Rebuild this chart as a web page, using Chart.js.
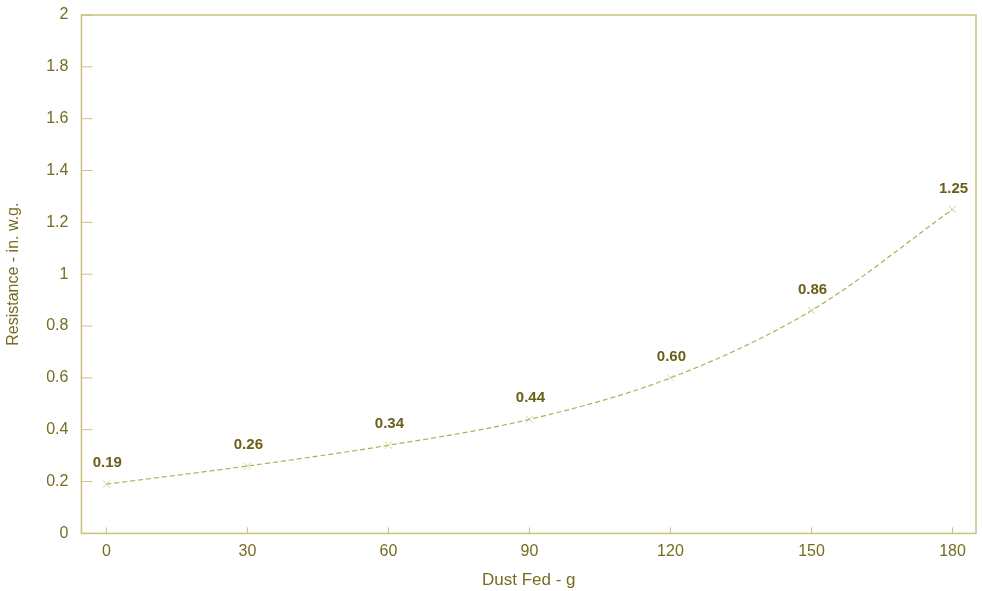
<!DOCTYPE html>
<html>
<head>
<meta charset="utf-8">
<script src="https://cdn.jsdelivr.net/npm/chart.js@4.4.1/dist/chart.umd.min.js"></script>
<style>
    html, body { margin: 0; padding: 0; background: #ffffff; }
    .wrap { width: 982px; height: 591px; }
</style>
</head>
<body>
<div class="wrap"><canvas id="dustChart" width="982" height="591"></canvas></div>
<script>
// data
const dustFed = [0, 30, 60, 90, 120, 150, 180];
const resistance = [0.19, 0.26, 0.34, 0.44, 0.60, 0.86, 1.25];
const pointLabels = ['0.19', '0.26', '0.34', '0.44', '0.60', '0.86', '1.25'];
const xTicks = [0, 30, 60, 90, 120, 150, 180];

const textColor = '#766c22';
const axisColor = '#c9c27e';
const fontFamily = '"Liberation Sans", Arial, sans-serif';

// box round the plot area plus short inward tick marks
const frame = {
    id: 'frame',
    afterDraw(chart) {
        const ctx = chart.ctx;
        const a = chart.chartArea;
        const xs = chart.scales.x;
        const ys = chart.scales.y;
        ctx.save();
        ctx.strokeStyle = axisColor;
        ctx.lineWidth = 1.5;
        ctx.strokeRect(a.left, a.top, a.right - a.left, a.bottom - a.top);
        ctx.lineWidth = 1;
        ys.ticks.forEach(t => {
            const y = ys.getPixelForValue(t.value);
            ctx.beginPath();
            ctx.moveTo(a.left, y);
            ctx.lineTo(a.left + 11, y);
            ctx.stroke();
        });
        xs.ticks.forEach(t => {
            const x = xs.getPixelForValue(t.value);
            ctx.beginPath();
            ctx.moveTo(x, a.bottom);
            ctx.lineTo(x, a.bottom - 6);
            ctx.stroke();
        });
        ctx.restore();
    }
};

// value labels above each point
const valueLabels = {
    id: 'valueLabels',
    afterDatasetsDraw(chart) {
        const ctx = chart.ctx;
        const meta = chart.getDatasetMeta(0);
        ctx.save();
        ctx.fillStyle = '#6a6018';
        ctx.font = 'bold 15px ' + fontFamily;
        ctx.textAlign = 'center';
        ctx.textBaseline = 'middle';
        meta.data.forEach((pt, i) => {
            ctx.fillText(pointLabels[i], pt.x + 1, pt.y - 21);
        });
        ctx.restore();
    }
};

const ctx = document.getElementById('dustChart').getContext('2d');
const dustChart = new Chart(ctx, {
    type: 'line',
    data: {
        datasets: [{
            label: 'Resistance',
            data: dustFed.map((x, i) => ({ x: x, y: resistance[i] })),
            borderColor: '#b5ac55',
            borderWidth: 1.2,
            borderDash: [5, 3],
            cubicInterpolationMode: 'monotone',
            pointStyle: 'crossRot',
            pointRadius: 5,
            pointBorderColor: '#d6d0a0',
            pointBorderWidth: 1,
            fill: false
        }]
    },
    options: {
        responsive: false,
        animation: false,
        layout: { padding: { top: 15, right: 3, left: 4, bottom: 0 } },
        plugins: {
            legend: { display: false },
            tooltip: { enabled: false }
        },
        scales: {
            x: {
                type: 'linear',
                min: -5.3,
                max: 185,
                afterBuildTicks: scale => {
                    scale.ticks = xTicks.map(v => ({ value: v }));
                },
                grid: { display: false, drawTicks: false },
                border: { display: false },
                ticks: {
                    color: textColor,
                    font: { family: fontFamily, size: 16 },
                    padding: 9
                },
                title: {
                    display: true,
                    text: 'Dust Fed - g',
                    color: textColor,
                    font: { family: fontFamily, size: 17 },
                    padding: { top: 0, bottom: 0 }
                }
            },
            y: {
                min: 0,
                max: 2,
                afterFit: scale => {
                    scale.paddingTop = 0;
                },
                ticks: {
                    stepSize: 0.2,
                    color: textColor,
                    font: { family: fontFamily, size: 16 },
                    padding: 13,
                    callback: v => String(Math.round(v * 10) / 10)
                },
                grid: { display: false, drawTicks: false },
                border: { display: false },
                title: {
                    display: true,
                    text: 'Resistance - in. w.g.',
                    color: textColor,
                    font: { family: fontFamily, size: 16 },
                    padding: { top: 0, bottom: 10 }
                }
            }
        }
    },
    plugins: [frame, valueLabels]
});
</script>
</body>
</html>
